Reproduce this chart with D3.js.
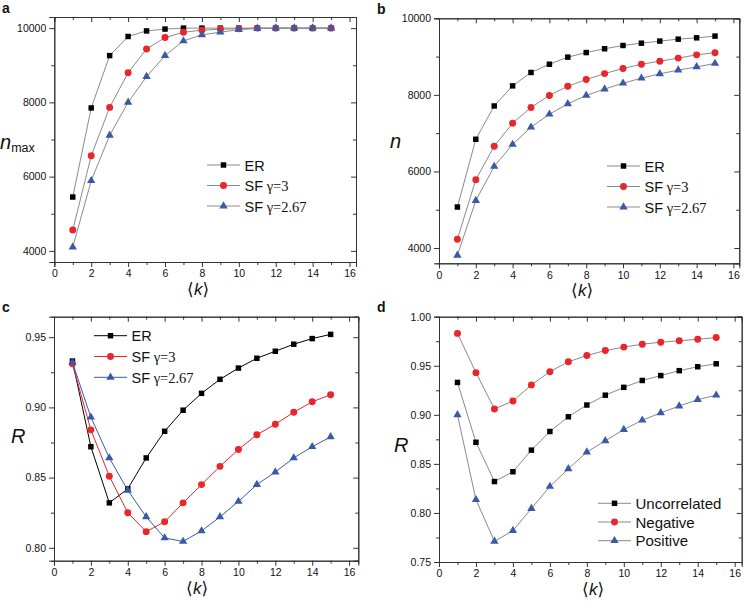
<!DOCTYPE html>
<html>
<head>
<meta charset="utf-8">
<script src="https://cdn.jsdelivr.net/npm/d3@7"></script>
<style>
  body { margin: 0; background: #fff; }
  svg { display: block; }
  text { font-family: Arial, "Liberation Sans", sans-serif; fill: #111; }
</style>
</head>
<body>
<svg id="chart" width="745" height="603"></svg>
<script>
// mean degree <k>
var kValues = [1, 2, 3, 4, 5, 6, 7, 8, 9, 10, 11, 12, 13, 14, 15];
var xTicks = [0, 2, 4, 6, 8, 10, 12, 14, 16];

// panel a: n_max
var aER    = [5450, 7850, 9260, 9775, 9925, 9975, 10000, 10000, 10000, 10000, 10000, 10000, 10000, 10000, 10000];
var aSF3   = [4560, 6560, 7865, 8800, 9440, 9745, 9890, 9945, 9970, 9985, 10000, 10000, 10000, 10000, 10000];
var aSF267 = [4100, 5890, 7110, 8000, 8695, 9260, 9655, 9820, 9890, 9960, 9990, 10000, 10000, 10000, 10000];

// panel b: n
var bER    = [5070, 6840, 7710, 8235, 8585, 8800, 8985, 9105, 9205, 9290, 9350, 9405, 9455, 9490, 9535];
var bSF3   = [4230, 5785, 6660, 7260, 7670, 7985, 8225, 8400, 8555, 8690, 8800, 8880, 8960, 9045, 9100];
var bSF267 = [3810, 5240, 6130, 6705, 7155, 7495, 7765, 7985, 8150, 8305, 8435, 8550, 8645, 8730, 8820];

// panel c: R
var cER    = [0.933, 0.872, 0.832, 0.842, 0.864, 0.883, 0.898, 0.910, 0.920, 0.928, 0.935, 0.940, 0.945, 0.949, 0.952];
var cSF3   = [0.931, 0.884, 0.851, 0.825, 0.8115, 0.8185, 0.832, 0.845, 0.858, 0.870, 0.8805, 0.888, 0.8965, 0.904, 0.909];
var cSF267 = [0.932, 0.893, 0.864, 0.841, 0.822, 0.807, 0.8045, 0.812, 0.822, 0.833, 0.845, 0.854, 0.864, 0.872, 0.879];

// panel d: R by degree correlation
var dUncorrelated = [0.933, 0.872, 0.832, 0.842, 0.864, 0.883, 0.898, 0.910, 0.920, 0.928, 0.935, 0.940, 0.945, 0.949, 0.952];
var dNegative     = [0.983, 0.943, 0.906, 0.914, 0.9305, 0.944, 0.954, 0.9605, 0.9655, 0.969, 0.972, 0.974, 0.9755, 0.977, 0.9787];
var dPositive     = [0.900, 0.8135, 0.771, 0.782, 0.8045, 0.827, 0.845, 0.862, 0.8735, 0.885, 0.8945, 0.902, 0.909, 0.9155, 0.920];

var aYTicks = [4000, 6000, 8000, 10000];
var bYTicks = [4000, 6000, 8000, 10000];
var cYTicks = [0.80, 0.85, 0.90, 0.95];
var dYTicks = [0.75, 0.80, 0.85, 0.90, 0.95, 1.00];

var BLACK = "#000000", RED = "#e8262b", BLUE = "#3a5aa6", GREY = "#8a8a8a";

var svg = d3.select("#chart");

function marker(shape) {
  if (shape == "square") return d3.symbol().type(d3.symbolSquare).size(30)();
  if (shape == "circle") return d3.symbol().type(d3.symbolCircle).size(38)();
  return d3.symbol().type(d3.symbolTriangle).size(30)();
}

function drawPanel(p) {
  var g = svg.append("g");
  var x = d3.scaleLinear().domain(p.xDomain).range([p.left, p.right]);
  var y = d3.scaleLinear().domain(p.yDomain).range([p.bottom, p.top]);

  // minor ticks
  var xMinor = d3.range(1, 16, 2);
  var yMinor = p.yMinor;

  // frame axes: bottom/left outward, top/right inward
  var bottom = d3.axisBottom(x).tickValues(xTicks).tickSize(5).tickPadding(3).tickFormat(d3.format("d"));
  var left = d3.axisLeft(y).tickValues(p.yTicks).tickSize(5).tickPadding(3).tickFormat(p.yFormat);
  g.append("g").attr("transform", "translate(0," + p.bottom + ")").call(bottom);
  g.append("g").attr("transform", "translate(" + p.left + ",0)").call(left);
  g.append("g").attr("transform", "translate(0," + p.bottom + ")")
    .call(d3.axisBottom(x).tickValues(xMinor).tickSize(3).tickFormat(""));
  g.append("g").attr("transform", "translate(" + p.left + ",0)")
    .call(d3.axisLeft(y).tickValues(yMinor).tickSize(3).tickFormat(""));
  g.append("g").attr("transform", "translate(0," + p.top + ")")
    .call(d3.axisBottom(x).tickValues(xTicks).tickSize(5).tickFormat(""));
  g.append("g").attr("transform", "translate(0," + p.top + ")")
    .call(d3.axisBottom(x).tickValues(xMinor).tickSize(3).tickFormat(""));
  g.append("g").attr("transform", "translate(" + p.right + ",0)")
    .call(d3.axisLeft(y).tickValues(p.yTicks).tickSize(5).tickFormat(""));
  g.append("g").attr("transform", "translate(" + p.right + ",0)")
    .call(d3.axisLeft(y).tickValues(yMinor).tickSize(3).tickFormat(""));

  g.selectAll(".domain").attr("stroke", "#333").attr("stroke-width", 1);
  g.selectAll(".tick line").attr("stroke", "#333");
  g.selectAll(".tick text").style("font-size", "10.5px").attr("fill", "#222")
    .style("font-family", "Arial, 'Liberation Sans', sans-serif");

  // series
  var line = d3.line().x(function (d) { return x(d[0]); }).y(function (d) { return y(d[1]); });
  p.series.forEach(function (s) {
    var pts = kValues.map(function (k, i) { return [k, s.values[i]]; });
    g.append("path").datum(pts).attr("d", line)
      .attr("fill", "none").attr("stroke", p.colouredLines ? s.color : GREY).attr("stroke-width", 1);
    g.selectAll(null).data(pts).enter().append("path")
      .attr("d", marker(s.shape))
      .attr("transform", function (d) { return "translate(" + x(d[0]) + "," + y(d[1]) + ")"; })
      .attr("fill", s.color);
  });

  // legend
  p.series.forEach(function (s, i) {
    var ly = p.legend.y + i * p.legend.dy;
    g.append("line").attr("x1", p.legend.x).attr("x2", p.legend.x + 33)
      .attr("y1", ly).attr("y2", ly)
      .attr("stroke", p.colouredLines ? s.color : GREY).attr("stroke-width", 1);
    g.append("path").attr("d", marker(s.shape))
      .attr("transform", "translate(" + (p.legend.x + 16.5) + "," + ly + ")").attr("fill", s.color);
    var t = g.append("text").attr("x", p.legend.x + 37.5).attr("y", ly + 5.5)
      .style("font-size", p.legend.size + "px");
    t.append("tspan").text(s.label);
    if (s.gamma) {
      t.append("tspan").text(" " + s.gamma)
        .style("font-family", "'Liberation Serif', 'Times New Roman', serif");
    }
  });

  // panel letter
  g.append("text").attr("x", p.letterX).attr("y", p.top - 4.5).text(p.letter)
    .style("font-size", "14px").style("font-weight", "bold");

  // x label <k>
  var xl = g.append("text").attr("x", p.kX).attr("y", p.bottom + 33)
    .attr("text-anchor", "middle").style("font-size", "17px")
    .style("font-family", "'DejaVu Sans', sans-serif");
  xl.append("tspan").text("\u27E8").style("font-weight", "200");
  xl.append("tspan").text("k").style("font-style", "italic")
    .style("font-family", "Arial, 'Liberation Sans', sans-serif");
  xl.append("tspan").text("\u27E9");

  // y label
  var yl = g.append("text").attr("x", p.yLabel.x).attr("y", p.yLabel.y)
    .style("font-size", "20px").style("font-style", "italic");
  yl.append("tspan").text(p.yLabel.main);
  if (p.yLabel.sub) {
    yl.append("tspan").text(p.yLabel.sub).attr("dy", 3)
      .style("font-size", "12.5px").style("font-style", "normal");
  }
}

var fmtInt = d3.format("d");
var fmt2 = d3.format(".2f");

drawPanel({
  letter: "a", letterX: 2,
  left: 54.3, right: 356, top: 17, bottom: 262,
  xDomain: [0, 16.35], yDomain: [3700, 10300],
  yTicks: aYTicks, yMinor: [5000, 7000, 9000], yFormat: fmtInt,
  colouredLines: false, kX: 198,
  yLabel: { x: 0, y: 149, main: "n", sub: "max" },
  legend: { x: 207, y: 165, dy: 20.5, size: 14.5 },
  series: [
    { values: aER, color: BLACK, shape: "square", label: "ER" },
    { values: aSF3, color: RED, shape: "circle", label: "SF", gamma: "\u03B3=3" },
    { values: aSF267, color: BLUE, shape: "triangle", label: "SF", gamma: "\u03B3=2.67" }
  ]
});

drawPanel({
  letter: "b", letterX: 377,
  left: 439, right: 739.3, top: 18.3, bottom: 263.3,
  xDomain: [0, 16.32], yDomain: [3600, 10000],
  yTicks: bYTicks, yMinor: [5000, 7000, 9000], yFormat: fmtInt,
  colouredLines: false, kX: 582,
  yLabel: { x: 390, y: 148, main: "n" },
  legend: { x: 607, y: 166, dy: 20.5, size: 14.5 },
  series: [
    { values: bER, color: BLACK, shape: "square", label: "ER" },
    { values: bSF3, color: RED, shape: "circle", label: "SF", gamma: "\u03B3=3" },
    { values: bSF267, color: BLUE, shape: "triangle", label: "SF", gamma: "\u03B3=2.67" }
  ]
});

drawPanel({
  letter: "c", letterX: 2,
  left: 54, right: 358.3, top: 316.7, bottom: 560.7,
  xDomain: [0, 16.5], yDomain: [0.7908, 0.9646],
  yTicks: cYTicks, yMinor: [0.825, 0.875, 0.925], yFormat: fmt2,
  colouredLines: true, kX: 197,
  yLabel: { x: 11, y: 443, main: "R" },
  legend: { x: 94, y: 335.7, dy: 20.8, size: 14.5 },
  series: [
    { values: cER, color: BLACK, shape: "square", label: "ER" },
    { values: cSF3, color: RED, shape: "circle", label: "SF", gamma: "\u03B3=3" },
    { values: cSF267, color: BLUE, shape: "triangle", label: "SF", gamma: "\u03B3=2.67" }
  ]
});

drawPanel({
  letter: "d", letterX: 377,
  left: 439, right: 741.7, top: 316.7, bottom: 562,
  xDomain: [0, 16.38], yDomain: [0.75, 1.0],
  yTicks: dYTicks, yMinor: [0.775, 0.825, 0.875, 0.925, 0.975], yFormat: fmt2,
  colouredLines: false, kX: 593,
  yLabel: { x: 394, y: 452, main: "R" },
  legend: { x: 598, y: 503.3, dy: 18.7, size: 15 },
  series: [
    { values: dUncorrelated, color: BLACK, shape: "square", label: "Uncorrelated" },
    { values: dNegative, color: RED, shape: "circle", label: "Negative" },
    { values: dPositive, color: BLUE, shape: "triangle", label: "Positive" }
  ]
});
</script>
</body>
</html>
